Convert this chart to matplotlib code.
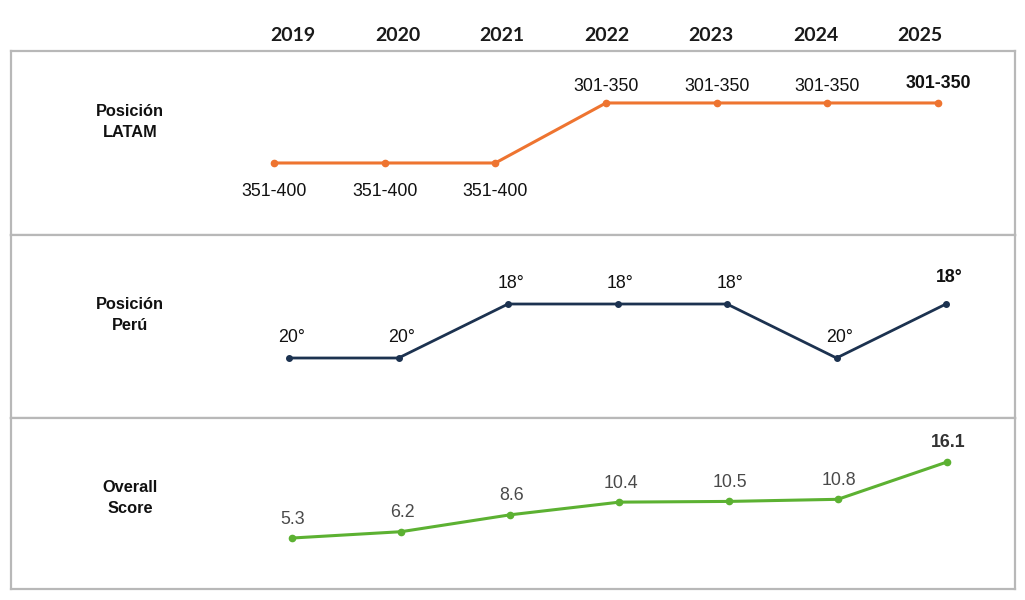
import matplotlib
matplotlib.use("Agg")
import matplotlib.pyplot as plt

years = ["2019", "2020", "2021", "2022", "2023", "2024", "2025"]
row_titles = ["Posición\nLATAM", "Posición\nPerú", "Overall\nScore"]

latam_level = [351, 351, 351, 301, 301, 301, 301]
latam_labels = ["351-400", "351-400", "351-400", "301-350", "301-350", "301-350", "301-350"]

peru_rank = [20, 20, 18, 18, 18, 20, 18]
peru_labels = ["20°", "20°", "18°", "18°", "18°", "20°", "18°"]

score = [5.3, 6.2, 8.6, 10.4, 10.5, 10.8, 16.1]
score_labels = ["5.3", "6.2", "8.6", "10.4", "10.5", "10.8", "16.1"]

W, H = 1025, 600
fig = plt.figure(figsize=(W / 100, H / 100), dpi=100)
fig.patch.set_facecolor("white")

BOX_L, BOX_R = 11, 1015
panels_px = [(51, 235), (235, 418), (418, 589)]
border = "#b8b8b8"

def make_ax(top, bot):
    ax = fig.add_axes([BOX_L / W, 1 - bot / H, (BOX_R - BOX_L) / W, (bot - top) / H])
    ax.set_xticks([])
    ax.set_yticks([])
    for s in ax.spines.values():
        s.set_color(border)
        s.set_linewidth(1.6)
    return ax

xs = list(range(len(years)))
label_font = "Liberation Sans"
FS = 12.8

# Panel 1: Posición LATAM
ax1 = make_ax(*panels_px[0])
ax1.plot(xs, latam_level, color="#ee7430", lw=2.2, marker="o", ms=4.5)
ax1.set_xlim(-2.376, 6.696)
ax1.set_ylim(411, 257.7)
for i, (x, v, t) in enumerate(zip(xs, latam_level, latam_labels)):
    last = i == len(xs) - 1
    dy = -29 if v == max(latam_level) else (19 if last else 16)
    ax1.annotate(t, (x, v), xytext=(0, dy), textcoords="offset pixels",
                 ha="center", va="center", fontsize=FS, family=label_font,
                 color="#111111", fontweight="bold" if last else "normal")

# Panel 2: Posición Perú
ax2 = make_ax(*panels_px[1])
ax2.plot(xs, peru_rank, color="#1c3250", lw=2.0, marker="o", ms=4)
ax2.set_xlim(-(289 - BOX_L) / 109.5, 6 + (BOX_R - 946) / 109.5)
ax2.set_ylim(22.222, 15.444)
for i, (x, v, t) in enumerate(zip(xs, peru_rank, peru_labels)):
    last = i == len(xs) - 1
    dy = 27 if last else 21
    ax2.annotate(t, (x, v), xytext=(3, dy), textcoords="offset pixels",
                 ha="center", va="center", fontsize=FS, family=label_font,
                 color="#111111", fontweight="bold" if last else "normal")

# Panel 3: Overall Score
ax3 = make_ax(*panels_px[2])
ax3.plot(xs, score, color="#5cb132", lw=2.2, marker="o", ms=4.5)
ax3.set_xlim(-(292 - BOX_L) / 109.2, 6 + (BOX_R - 947) / 109.2)
ax3.set_ylim(-1.94, 22.35)
for i, (x, v, t) in enumerate(zip(xs, score, score_labels)):
    last = i == len(xs) - 1
    ax3.annotate(t, (x, v), xytext=(1, 19), textcoords="offset pixels",
                 ha="center", va="center", fontsize=FS, family=label_font,
                 color="#333333" if last else "#4a4a4a",
                 fontweight="bold" if last else "normal")

# Row titles
for ax, title, fy in zip([ax1, ax2, ax3], row_titles, [0.614, 0.563, 0.532]):
    ax.text(119 / (BOX_R - BOX_L), fy, title, transform=ax.transAxes,
            ha="center", va="center", fontsize=11.8, fontweight="bold",
            family=label_font, color="#111111", linespacing=1.45)

# Year header on top
axt = ax1.twiny()
axt.set_xlim(-(293 - BOX_L) / 104.5, 6 + (BOX_R - 920) / 104.5)
axt.set_xticks(xs)
axt.set_xticklabels(years, fontsize=14, fontweight="bold", family="Lato", color="#1a1a1a")
axt.tick_params(axis="x", length=0, pad=5)
for s in axt.spines.values():
    s.set_visible(False)

fig.savefig("out.png", dpi=100, facecolor="white")
